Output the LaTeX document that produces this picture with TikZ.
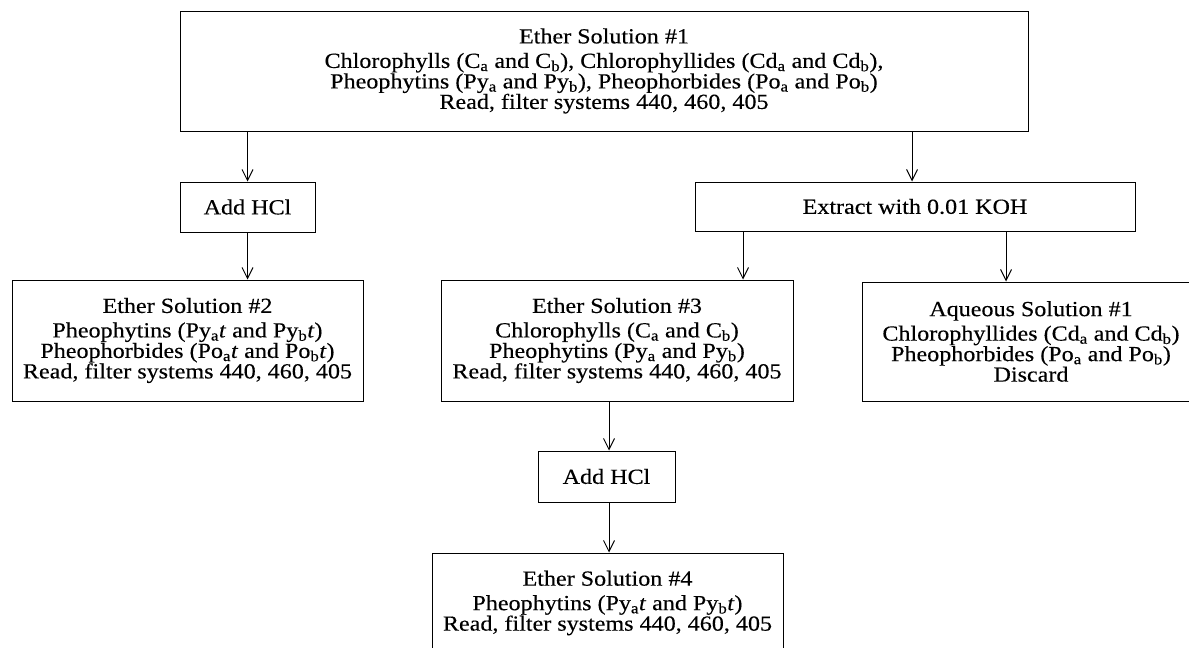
\documentclass[tikz,border=0pt]{standalone}
\usepackage{fontspec}
\setmainfont{Liberation Serif}[FakeStretch=1.12, FakeBold=0.3]
\usetikzlibrary{arrows.meta}

\newcommand{\lo}[1]{\textsubscript{#1}}

\begin{document}
\begin{tikzpicture}[x=1pt, y=-1pt, inner sep=3pt, line width=1pt]
            \useasboundingbox (0,0) rectangle (1189,648);

            \tikzstyle{myBox}=[draw, align=center, font=\fontsize{21.5}{20.5}\selectfont];
            \tikzstyle{myArr}=[-{Straight Barb[length=11pt,width=11pt]}];
            \node[myBox, minimum width=848pt, minimum height=120pt] (es1) at (604,71)
                {Ether Solution \#1\\[4pt]
                 Chlorophylls (C\lo{a} and C\lo{b}), Chlorophyllides (Cd\lo{a} and Cd\lo{b}),\\
                 Pheophytins (Py\lo{a} and Py\lo{b}), Pheophorbides (Po\lo{a} and Po\lo{b})\\
                 Read, filter systems 440, 460, 405};
            \node[myBox, minimum width=135pt, minimum height=50pt] (hcl1) at (247.5,207) {Add HCl};
            \node[myBox, minimum width=440pt, minimum height=49pt] (ext) at (915,206.5) {Extract with 0.01 KOH};
            \node[myBox, minimum width=351pt, minimum height=121pt] (es2) at (187.5,340.5)
                {Ether Solution \#2\\[4pt]
                 Pheophytins (Py\lo{a}\textit{t} and Py\lo{b}\textit{t})\\
                 Pheophorbides (Po\lo{a}\textit{t} and Po\lo{b}\textit{t})\\
                 Read, filter systems 440, 460, 405};
            \node[myBox, minimum width=352pt, minimum height=121pt] (es3) at (617,340.5)
                {Ether Solution \#3\\[4pt]
                 Chlorophylls (C\lo{a} and C\lo{b})\\
                 Pheophytins (Py\lo{a} and Py\lo{b})\\
                 Read, filter systems 440, 460, 405};
            \node[myBox, minimum width=338pt, minimum height=119pt] (aq) at (1031,341.5)
                {Aqueous Solution \#1\\[4pt]
                 Chlorophyllides (Cd\lo{a} and Cd\lo{b})\\
                 Pheophorbides (Po\lo{a} and Po\lo{b})\\
                 Discard};
            \node[myBox, minimum width=137pt, minimum height=51pt] (hcl2) at (606.5,476.5) {Add HCl};
            \node[myBox, minimum width=351pt, minimum height=100pt] (es4) at (607.5,603)
                {Ether Solution \#4\\[4pt]
                 Pheophytins (Py\lo{a}\textit{t} and Py\lo{b}\textit{t})\\
                 Read, filter systems 440, 460, 405};

            \draw[myArr] (es1.south -| hcl1) -- (hcl1.north);
            \draw[myArr] (hcl1.south) -- (es2.north -| hcl1);
            \draw[myArr] (es1.south -| 912,0) -- (ext.north -| 912,0);
            \draw[myArr] (ext.south -| 743,0) -- (es3.north -| 743,0);
            \draw[myArr] (ext.south -| 1006,0) -- (aq.north -| 1006,0);
            \draw[myArr] (es3.south -| 609,0) -- (hcl2.north -| 609,0);
            \draw[myArr] (hcl2.south -| 609,0) -- (es4.north -| 609,0);
         \end{tikzpicture}
\end{document}
